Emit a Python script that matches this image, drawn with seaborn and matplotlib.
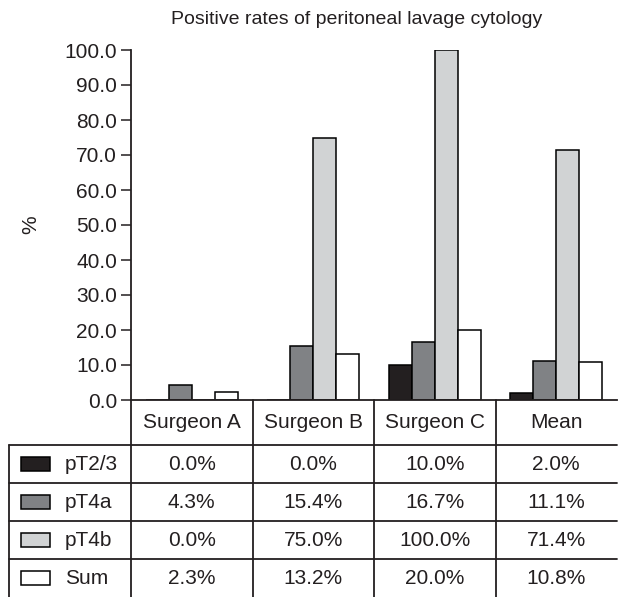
import numpy as np
import matplotlib
matplotlib.use("Agg")
import matplotlib.pyplot as plt
from matplotlib.patches import Rectangle
import seaborn as sns
import pandas as pd

# Datos (tasas positivas de citología de lavado peritoneal, %)
categories = ["Surgeon A", "Surgeon B", "Surgeon C", "Mean"]
stages = ["pT2/3", "pT4a", "pT4b", "Sum"]
pt23 = [0.0, 0.0, 10.0, 2.0]
pt4a = [4.3, 15.4, 16.7, 11.1]
pt4b = [0.0, 75.0, 100.0, 71.4]
total = [2.3, 13.2, 20.0, 10.8]
colors = ["#231f20", "#808285", "#d1d3d4", "#ffffff"]

series = [pt23, pt4a, pt4b, total]
df = pd.DataFrame({
    "Grupo": categories * len(stages),
    "Estadio": [s for s in stages for _ in categories],
    "Valor": [v for vals in series for v in vals],
})

sns.set_style("ticks")
plt.rcParams["font.family"] = ["Liberation Sans", "DejaVu Sans"]

W, H = 618, 597
fig = plt.figure(figsize=(W / 100, H / 100), dpi=100)

# ejes principales (barras)
left, right = 131 / W, 617 / W
bottom, top = (H - 400) / H, (H - 50) / H
ax = fig.add_axes([left, bottom, right - left, top - bottom])
sns.barplot(data=df, x="Grupo", y="Valor", hue="Estadio", order=categories,
            hue_order=stages, palette=colors, width=0.76, gap=0,
            edgecolor="black", linewidth=1.1, saturation=1, ax=ax, legend=False)
ax.set_xlim(-0.5, 3.5)
ax.set_ylim(0, 100)
ax.set_yticks(np.arange(0, 101, 10))
ax.set_yticklabels([f"{t:.1f}" for t in np.arange(0, 101, 10)])
ax.tick_params(axis="y", direction="out", length=7, width=1.1, labelsize=15,
               pad=3, colors="#231f20")
ax.set_xticks([])
ax.set_xlabel("")
ax.set_ylabel("%", fontsize=15, color="#231f20")
ax.yaxis.set_label_coords((40 - 131) / 486, 0.5)
for s in ["top", "right"]:
    ax.spines[s].set_visible(False)
for s in ["left", "bottom"]:
    ax.spines[s].set_linewidth(1.3)
    ax.spines[s].set_color("#231f20")

fig.text(357 / W, 1 - 20 / H, "Positive rates of peritoneal lavage cytology",
         ha="center", va="center", fontsize=14, color="#231f20")

# tabla debajo
tab = fig.add_axes([left, 0, right - left, bottom])
h0 = 45 / 38
tab.set_xlim(-0.5, 3.5)
tab.set_ylim(h0 + 4, 0)
tab.axis("off")
unit = 486 / 4
xl = -0.5 - 122 / unit
lw = 1.3
lc = "#231f20"

for i in range(4):
    tab.plot([xl, 3.5], [h0 + i, h0 + i], color=lc, lw=lw, clip_on=False)
for x in [-0.5, 0.5, 1.5, 2.5]:
    tab.plot([x, x], [0, h0 + 4], color=lc, lw=lw, clip_on=False)
tab.plot([xl, xl], [h0, h0 + 4], color=lc, lw=lw, clip_on=False)

for j, c in enumerate(categories):
    tab.text(j, h0 / 2, c, ha="center", va="center", fontsize=15, color=lc)

for i, (name, vals, col) in enumerate(zip(stages, series, colors)):
    yc = h0 + i + 0.5
    sw = Rectangle((-0.5 - 110 / unit, yc - 0.19), 29 / unit, 0.38,
                   facecolor=col, edgecolor="black", lw=1.1, clip_on=False)
    tab.add_patch(sw)
    tab.text(-0.5 - 66 / unit, yc, name, ha="left", va="center", fontsize=15,
             color=lc, clip_on=False)
    for j, v in enumerate(vals):
        tab.text(j, yc, f"{v:.1f}%", ha="center", va="center", fontsize=15,
                 color=lc)

fig.savefig("out.png", dpi=100)
